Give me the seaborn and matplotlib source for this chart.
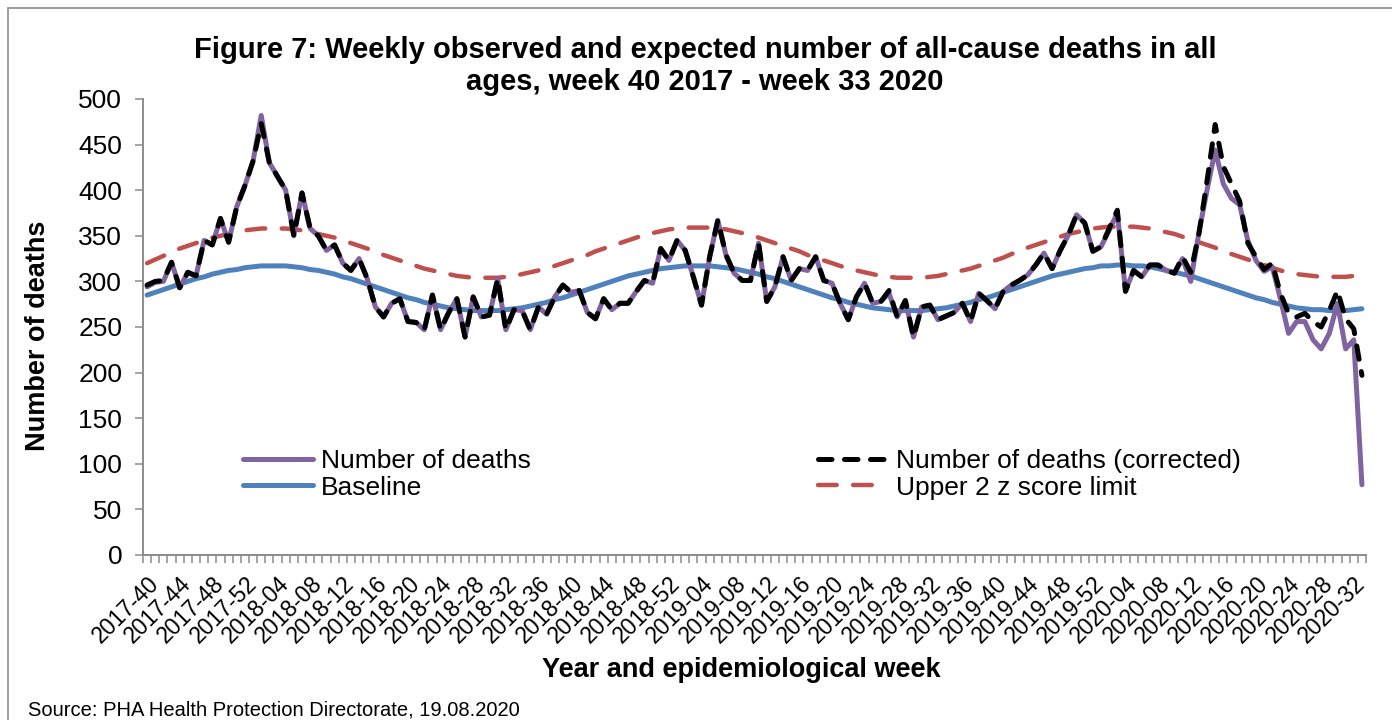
import matplotlib
matplotlib.use("Agg")
import matplotlib.pyplot as plt
from matplotlib.patches import Rectangle
from matplotlib.ticker import FixedLocator, MultipleLocator
import seaborn as sns
import pandas as pd

# Epidemiological weeks 2017-40 .. 2020-33
weeks = ([f"2017-{w:02d}" for w in range(40, 53)]
         + [f"2018-{w:02d}" for w in range(1, 53)]
         + [f"2019-{w:02d}" for w in range(1, 53)]
         + [f"2020-{w:02d}" for w in range(1, 34)])

deaths = [
    294, 299, 300, 321, 293, 310, 306, 345, 340, 369,
    343, 382, 405, 432, 482, 430, 415, 400, 350, 397,
    358, 350, 334, 340, 320, 312, 325, 303, 272, 261,
    276, 281, 256, 255, 247, 285, 247, 266, 281, 239,
    283, 261, 263, 303, 247, 269, 268, 247, 272, 264,
    283, 296, 288, 290, 266, 259, 281, 269, 276, 276,
    289, 301, 298, 336, 323, 345, 334, 305, 274, 327,
    367, 329, 309, 301, 301, 342, 278, 294, 327, 301,
    314, 312, 327, 301, 298, 276, 258, 283, 298, 276,
    278, 287, 261, 279, 239, 272, 274, 258, 262, 266,
    276, 256, 287, 279, 270, 289, 296, 301, 307, 318,
    331, 314, 334, 351, 373, 364, 333, 338, 356, 375,
    290, 312, 305, 318, 318, 312, 309, 325, 300, 353,
    400, 444, 407, 391, 384, 345, 323, 311, 316, 281,
    243, 256, 256, 236, 226, 243, 276, 226, 236, 77,
]

deaths_corrected = [
    296, 300, 301, 321, 293, 310, 306, 345, 340, 369,
    343, 382, 405, 432, 473, 430, 415, 400, 350, 397,
    358, 350, 334, 340, 320, 312, 325, 303, 272, 261,
    276, 281, 256, 255, 247, 285, 247, 266, 281, 239,
    283, 261, 263, 303, 247, 269, 268, 247, 272, 264,
    283, 296, 288, 290, 266, 259, 281, 269, 276, 276,
    289, 301, 298, 336, 323, 345, 334, 305, 274, 327,
    367, 329, 309, 301, 301, 342, 278, 294, 327, 301,
    314, 312, 327, 301, 298, 276, 258, 283, 298, 276,
    278, 290, 261, 279, 239, 272, 274, 258, 262, 266,
    276, 256, 287, 279, 270, 289, 296, 301, 307, 318,
    331, 314, 334, 351, 373, 364, 333, 338, 358, 378,
    289, 312, 305, 318, 318, 312, 309, 327, 310, 352,
    410, 472, 426, 407, 388, 342, 327, 313, 320, 287,
    265, 261, 265, 256, 250, 268, 290, 259, 248, 197,
]

baseline = [
    285, 288, 291, 294, 297, 300, 303, 305, 308, 310, 312, 313, 315,
    316, 317, 317, 317, 317, 316, 315, 313, 312, 310, 308, 305, 303,
    300, 297, 294, 291, 288, 285, 282, 280, 277, 275, 273, 271, 270,
    269, 268, 268, 268, 268, 269, 270, 271, 273, 275, 277, 280, 282,
    285, 288, 291, 294, 297, 300, 303, 306, 308, 310, 312, 314, 315,
    316, 317, 317, 317, 317, 316, 315, 314, 312, 310, 308, 305, 303,
    300, 297, 294, 291, 288, 285, 282, 280, 277, 275, 273, 271, 270,
    269, 268, 268, 268, 268, 269, 270, 271, 273, 275, 277, 280, 282,
    285, 288, 291, 294, 297, 300, 303, 306, 308, 310, 312, 314, 315,
    317, 317, 318, 318, 317, 317, 316, 314, 312, 310, 308, 306, 303,
    300, 297, 294, 291, 288, 285, 282, 280, 277, 275, 273, 271, 270,
    269, 269, 268, 268, 268, 269, 270,
]

upper_limit = [
    320, 324, 328, 332, 336, 339, 342, 345, 348, 350, 352, 354, 356,
    357, 358, 358, 358, 358, 357, 356, 354, 352, 350, 348, 345, 342,
    339, 336, 333, 329, 326, 323, 320, 317, 314, 312, 310, 308, 306,
    305, 304, 304, 304, 304, 305, 306, 308, 310, 312, 314, 317, 320,
    323, 326, 329, 333, 336, 339, 342, 345, 348, 351, 353, 355, 357,
    358, 359, 359, 359, 359, 358, 357, 355, 353, 351, 348, 345, 342,
    339, 336, 333, 329, 326, 323, 320, 317, 314, 312, 310, 308, 306,
    305, 304, 304, 304, 304, 305, 306, 308, 310, 312, 314, 317, 320,
    323, 326, 330, 333, 337, 340, 343, 346, 349, 352, 354, 356, 358,
    359, 360, 360, 360, 360, 359, 358, 356, 354, 352, 349, 346, 343,
    340, 337, 333, 330, 327, 324, 321, 318, 315, 312, 310, 308, 307,
    306, 305, 305, 305, 305, 306, 306,
]

df = pd.DataFrame({
    "pos": range(len(weeks)),
    "week": weeks,
    "deaths": deaths,
    "deaths_corrected": deaths_corrected,
    "baseline": baseline,
    "upper_limit": upper_limit,
})

sns.set_theme(style="white")
plt.rcParams["font.family"] = ["Liberation Sans", "DejaVu Sans"]
plt.rcParams["text.color"] = "black"
plt.rcParams["axes.labelcolor"] = "black"
plt.rcParams["xtick.color"] = "black"
plt.rcParams["ytick.color"] = "black"

W, H = 1392, 720
fig = plt.figure(figsize=(W / 100, H / 100), dpi=100)
fig.patch.set_facecolor("white")

# outer chart border (left and top edges fall inside the canvas)
fig.add_artist(Rectangle((8 / W, -0.05), 1.1, 1.05 - 8 / H,
                         transform=fig.transFigure, fill=False,
                         edgecolor="#8c8c8c", linewidth=1.2))

ax = fig.add_axes([143 / W, 1 - 555 / H, (1366 - 143) / W, (555 - 99) / H])

BLUE, RED, PURPLE = "#4F81BD", "#C0504D", "#8064A2"

sns.lineplot(data=df, x="pos", y="baseline", ax=ax, color=BLUE,
             linewidth=3.6, label="Baseline", zorder=2, errorbar=None)
sns.lineplot(data=df, x="pos", y="upper_limit", ax=ax, color=RED,
             linewidth=3.2, linestyle=(0, (4.2, 3.7)), dash_capstyle="round",
             label="Upper 2 z score limit", zorder=3, errorbar=None)
sns.lineplot(data=df, x="pos", y="deaths", ax=ax, color=PURPLE,
             linewidth=3.6, label="Number of deaths", zorder=4, errorbar=None)
sns.lineplot(data=df, x="pos", y="deaths_corrected", ax=ax, color="black",
             linewidth=3.6, linestyle=(0, (2.7, 2.5)), dash_capstyle="round",
             label="Number of deaths (corrected)", zorder=5, errorbar=None)

if ax.get_legend() is not None:
    ax.get_legend().remove()

n = len(weeks)
ax.set_xlim(-0.5, n - 0.5)
ax.set_ylim(0, 500)
ax.yaxis.set_major_locator(MultipleLocator(50))

label_pos = list(range(0, n, 4))
ax.xaxis.set_major_locator(FixedLocator(label_pos))
ax.set_xticklabels([weeks[i] for i in label_pos], rotation=45,
                   ha="right", va="top", rotation_mode="anchor")
ax.xaxis.set_minor_locator(FixedLocator([i - 0.5 for i in range(n + 1)]))

ax.tick_params(axis="x", which="major", length=0, pad=12, labelsize=16.5,
               labelcolor="black")
ax.tick_params(axis="x", which="minor", bottom=True, length=6, width=1.1,
               color="#8c8c8c", direction="out")
ax.tick_params(axis="y", which="major", left=True, length=6, width=1.1,
               color="#8c8c8c", direction="out", pad=9, labelsize=19,
               labelcolor="black")

for side in ("top", "right"):
    ax.spines[side].set_visible(False)
for side in ("left", "bottom"):
    ax.spines[side].set_color("#8c8c8c")
    ax.spines[side].set_linewidth(1.4)

ax.set_xlabel("")
ax.set_ylabel("")

fig.text(705 / W, 1 - 50 / H,
         "Figure 7: Weekly observed and expected number of all-cause deaths in all",
         ha="center", va="center", fontsize=21, fontweight="bold")
fig.text(705 / W, 1 - 82 / H, "ages, week 40 2017 - week 33 2020",
         ha="center", va="center", fontsize=21, fontweight="bold")
fig.text(38 / W, 1 - 336 / H, "Number of deaths", rotation=90,
         ha="center", va="center", fontsize=19.5, fontweight="bold")
fig.text(741 / W, 1 - 670 / H, "Year and epidemiological week",
         ha="center", va="center", fontsize=19.5, fontweight="bold")
fig.text(28 / W, 1 - 716 / H,
         "Source: PHA Health Protection Directorate, 19.08.2020",
         ha="left", va="baseline", fontsize=14.5)

handles, labels = ax.get_legend_handles_labels()
hmap = dict(zip(labels, handles))

leg_kw = dict(loc="upper left", bbox_transform=fig.transFigure, frameon=False,
              fontsize=19, handlelength=2.65, handletextpad=0.3,
              labelspacing=0.1, borderpad=0, borderaxespad=0)
leg1 = ax.legend(handles=[hmap["Number of deaths"], hmap["Baseline"]],
                 labels=["Number of deaths", "Baseline"],
                 bbox_to_anchor=(243 / W, 1 - 449 / H), **leg_kw)
ax.add_artist(leg1)
ax.legend(handles=[hmap["Number of deaths (corrected)"], hmap["Upper 2 z score limit"]],
          labels=["Number of deaths (corrected)", "Upper 2 z score limit"],
          bbox_to_anchor=(818 / W, 1 - 449 / H), **leg_kw)

fig.savefig("out.png", dpi=100, facecolor="white")
